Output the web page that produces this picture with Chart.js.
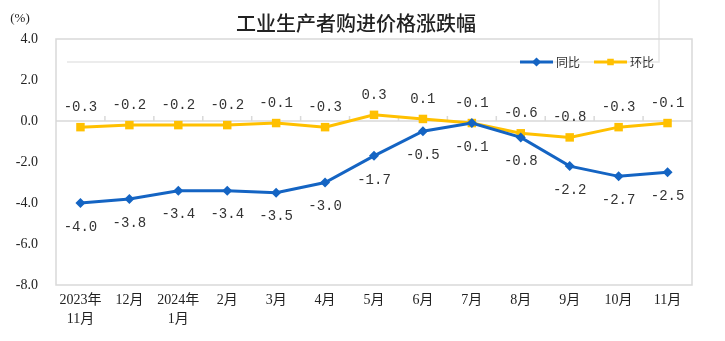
<html lang="zh">
<head>
<meta charset="utf-8">
<script src="https://cdn.jsdelivr.net/npm/chart.js@4.4.1/dist/chart.umd.min.js"></script>
<title>工业生产者购进价格涨跌幅</title>
<style>
    body { margin : 0 ; background : #ffffff ; }
    .box { width : 725px ; height : 341px ; position : relative ; }
</style>
</head>
<body>
<div class="box"><canvas id="price_chart"></canvas></div>
<script>
    // months, year-on-year and month-on-month changes (%)
    var months = [["2023年","11月"],"12月",["2024年","1月"],"2月","3月","4月","5月","6月","7月","8月","9月","10月","11月"];
    var yoy = [-4.0,-3.8,-3.4,-3.4,-3.5,-3.0,-1.7,-0.5,-0.1,-0.8,-2.2,-2.7,-2.5];
    var mom = [-0.3,-0.2,-0.2,-0.2,-0.1,-0.3,0.3,0.1,-0.1,-0.6,-0.8,-0.3,-0.1];
    var yTicks = [4,2,0,-2,-4,-6,-8];

    var blue = "#1464c3", gold = "#ffc000";
    var cjk = "'Noto Sans CJK SC', sans-serif";

    // frame, zero line, title and legend drawn on the canvas
    var decor = {
        id : "decor",
        beforeDatasetsDraw : function(chart) {
            var c = chart.ctx, a = chart.chartArea, x = chart.scales.x, y = chart.scales.y;
            c.save();
            // faint box line behind the legend
            c.strokeStyle = "#e6e6e6";
            c.lineWidth = 1.5;
            c.beginPath();
            c.moveTo(67, 62); c.lineTo(659, 62); c.lineTo(659, 0);
            c.stroke();
            // plot border
            c.strokeStyle = "#d9d9d9";
            c.lineWidth = 1.5;
            c.strokeRect(a.left, a.top, a.right - a.left, a.bottom - a.top);
            // zero line with category ticks
            var y0 = y.getPixelForValue(0);
            var step = x.getPixelForValue(1) - x.getPixelForValue(0);
            c.beginPath();
            c.moveTo(a.left, y0); c.lineTo(a.right, y0);
            for (var i = 1; i < months.length; i++) {
                var bx = x.getPixelForValue(i) - step / 2;
                c.moveTo(bx, y0); c.lineTo(bx, y0 - 5);
            }
            c.stroke();
            c.restore();
        },
        afterDatasetsDraw : function(chart) {
            var c = chart.ctx;
            c.save();
            // value labels: 同比 below, 环比 above
            c.font = "14px 'Liberation Mono', monospace";
            c.fillStyle = "#333333";
            c.textAlign = "center";
            c.textBaseline = "middle";
            chart.getDatasetMeta(0).data.forEach(function(p, i) {
                c.fillText(yoy[i].toFixed(1), p.x, p.y + 24);
            });
            chart.getDatasetMeta(1).data.forEach(function(p, i) {
                c.fillText(mom[i].toFixed(1), p.x, p.y - 20);
            });
            // title and unit
            c.fillStyle = "#222222";
            c.font = "500 20px " + cjk;
            c.fillText("工业生产者购进价格涨跌幅", 356, 23);
            c.font = "13px 'Liberation Serif', serif";
            c.fillText("(%)", 20, 19);
            // legend
            var items = [["同比", blue, "rectRot", 520], ["环比", gold, "rect", 594]];
            items.forEach(function(it) {
                c.strokeStyle = it[1];
                c.fillStyle = it[1];
                c.lineWidth = 3;
                c.beginPath();
                c.moveTo(it[3], 62); c.lineTo(it[3] + 33, 62);
                c.stroke();
                Chart.helpers.drawPoint(c, {pointStyle : it[2], radius : 2.5, borderWidth : 1}, it[3] + 16.5, 62);
                c.fill();
                c.fillStyle = "#333333";
                c.textAlign = "left";
                c.font = "12px " + cjk;
                c.fillText(it[0], it[3] + 36, 62);
            });
            c.restore();
        }
    };

    new Chart("price_chart", {
        type : "line",
        data : {
            labels : months,
            datasets : [{
                label : "同比",
                data : yoy,
                borderColor : blue,
                backgroundColor : blue,
                borderWidth : 3,
                pointStyle : "rectRot",
                pointRadius : 5,
                pointBorderWidth : 0,
                tension : 0
            }, {
                label : "环比",
                data : mom,
                borderColor : gold,
                backgroundColor : gold,
                borderWidth : 3,
                pointStyle : "rect",
                pointRadius : 6,
                pointBorderWidth : 0,
                tension : 0
            }]
        },
        options : {
            responsive : true,
            maintainAspectRatio : false,
            animation : false,
            layout : { padding : { top : 39, right : 33, left : 0, bottom : 0 } },
            plugins : { legend : { display : false }, title : { display : false }, tooltip : { enabled : false } },
            scales : {
                x : {
                    offset : true,
                    grid : { display : false, drawTicks : false },
                    border : { display : false },
                    ticks : {
                        maxRotation : 0,
                        autoSkip : false,
                        padding : 6,
                        color : "#222222",
                        font : { family : "'Liberation Serif', 'Noto Sans CJK SC', serif", size : 14, lineHeight : 1.35 }
                    },
                    afterFit : function(s) { s.height = 56; }
                },
                y : {
                    min : -8,
                    max : 4,
                    grid : { display : false, drawTicks : false },
                    border : { display : false },
                    afterBuildTicks : function(s) { s.ticks = yTicks.map(function(v) { return { value : v }; }); },
                    ticks : {
                        padding : 18,
                        color : "#222222",
                        font : { family : "'Liberation Serif', serif", size : 14 },
                        callback : function(v) { return v.toFixed(1); }
                    },
                    afterFit : function(s) { s.width = 56; }
                }
            }
        },
        plugins : [decor]
    });
</script>
</body>
</html>
